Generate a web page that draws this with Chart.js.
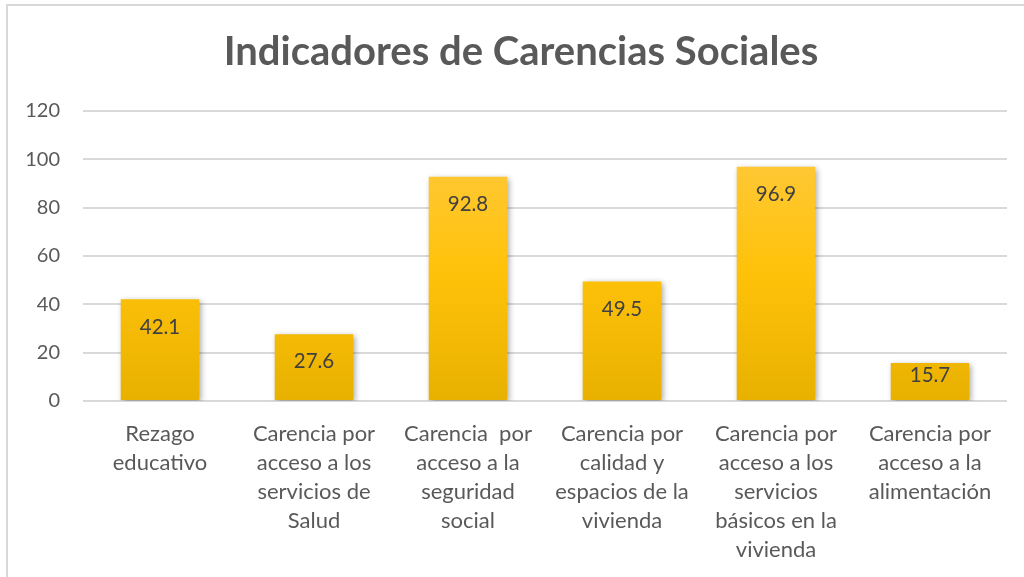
<!DOCTYPE html>
<html>
<head>
<meta charset="utf-8">
<script src="https://cdn.jsdelivr.net/npm/chart.js@4/dist/chart.umd.min.js"></script>
<style>
  html, body { margin: 0; padding: 0; background: #fff; }
  #wrap { position: relative; width: 1024px; height: 577px; overflow: hidden; }
  #frame { position: absolute; left: 6px; top: 4px; width: 1030px; height: 600px; border: 2px solid #d9d9d9; box-sizing: border-box; }
  canvas { position: absolute; left: 0; top: 0; }
</style>
</head>
<body>
<div id="wrap">
  <div id="frame"></div>
  <canvas id="myChart" width="1024" height="577"></canvas>
</div>
<script>
    // categories and values
    var categories = [
        ["Rezago", "educativo"],
        ["Carencia por", "acceso a los", "servicios de", "Salud"],
        ["Carencia  por", "acceso a la", "seguridad", "social"],
        ["Carencia por", "calidad y", "espacios de la", "vivienda"],
        ["Carencia por", "acceso a los", "servicios", "básicos en la", "vivienda"],
        ["Carencia por", "acceso a la", "alimentación"]
    ];
    var values = [42.1, 27.6, 92.8, 49.5, 96.9, 15.7];
    var yTicks = [0, 20, 40, 60, 80, 100, 120];

    var textColor = "#595959";
    var font = "Lato, 'Open Sans', sans-serif";

    // gold gradient from top of plot area to axis
    function barGradient(context) {
        var chart = context.chart;
        var area = chart.chartArea;
        if (!area) return "#FFC000";
        var g = chart.ctx.createLinearGradient(0, area.top, 0, area.bottom);
        g.addColorStop(0, "#FFCB4A");
        g.addColorStop(0.55, "#FFC20A");
        g.addColorStop(1, "#E8B100");
        return g;
    }

    // soft shadow behind the bars
    var barShadow = {
        id: "barShadow",
        beforeDatasetsDraw: function(chart) {
            var ctx = chart.ctx;
            ctx.save();
            ctx.shadowColor = "rgba(0,0,0,0.35)";
            ctx.shadowBlur = 6;
            ctx.shadowOffsetX = 2;
            ctx.shadowOffsetY = 2;
        },
        afterDatasetsDraw: function(chart) {
            chart.ctx.restore();
        }
    };

    // value labels inside the top of each bar
    var valueLabels = {
        id: "valueLabels",
        afterDatasetsDraw: function(chart) {
            var ctx = chart.ctx;
            var meta = chart.getDatasetMeta(0);
            ctx.save();
            ctx.font = "20.5px " + font;
            ctx.fillStyle = "#404040";
            ctx.textAlign = "center";
            ctx.textBaseline = "middle";
            meta.data.forEach(function(bar, i) {
                var off = Math.min(28, (bar.base - bar.y) / 2 - 6);
                ctx.fillText(values[i].toFixed(1), bar.x, bar.y + off);
            });
            ctx.restore();
        }
    };

    // the title sits a bit right of the canvas centre
    var titleShift = {
        id: "titleShift",
        afterLayout: function(chart) {
            if (chart.titleBlock) chart.titleBlock.left = 35;
        }
    };

    new Chart("myChart", {
        type: "bar",
        data: {
            labels: categories,
            datasets: [{
                data: values,
                backgroundColor: barGradient,
                borderWidth: 0,
                categoryPercentage: 1,
                barPercentage: 0.51
            }]
        },
        plugins: [barShadow, valueLabels, titleShift],
        options: {
            responsive: false,
            animation: false,
            layout: { padding: { left: 0, right: 17, top: 0, bottom: 0 } },
            plugins: {
                legend: { display: false },
                tooltip: { enabled: false },
                title: {
                    display: true,
                    text: "Indicadores de Carencias Sociales",
                    color: textColor,
                    font: { family: font, size: 40, weight: "bold" },
                    padding: { top: 28, bottom: 35 }
                }
            },
            scales: {
                x: {
                    grid: { display: false, drawTicks: false },
                    border: { display: false },
                    ticks: {
                        color: textColor,
                        font: { family: font, size: 22, lineHeight: 1.32 },
                        padding: 18,
                        maxRotation: 0,
                        autoSkip: false
                    },
                    afterFit: function(scale) { scale.height = 176; }
                },
                y: {
                    min: 0,
                    max: 120,
                    afterBuildTicks: function(scale) {
                        scale.ticks = yTicks.map(function(v) { return { value: v }; });
                    },
                    grid: { color: "#d9d9d9", lineWidth: 2, drawTicks: false },
                    border: { display: false },
                    ticks: {
                        color: textColor,
                        font: { family: font, size: 20 },
                        padding: 23
                    },
                    afterFit: function(scale) { scale.width = 83; }
                }
            }
        }
    });
</script>
</body>
</html>
